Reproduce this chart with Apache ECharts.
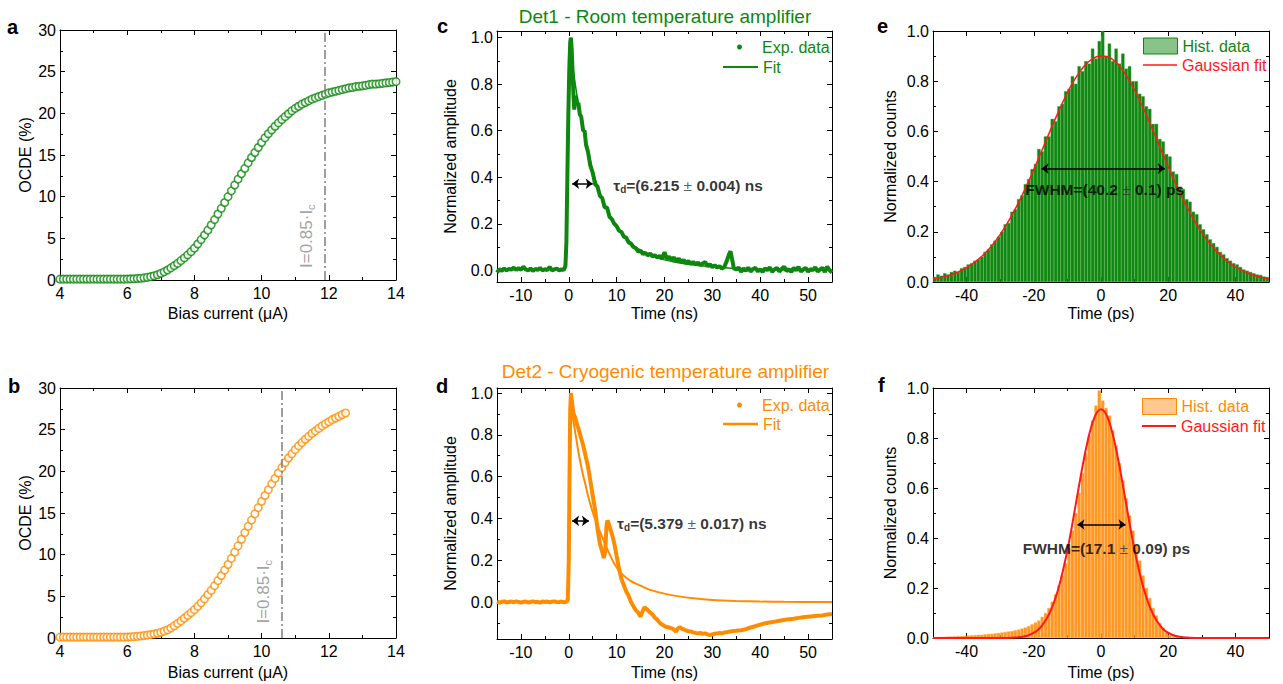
<!DOCTYPE html>
<html><head><meta charset="utf-8">
<script src="https://cdn.jsdelivr.net/npm/echarts@6/dist/echarts.min.js"></script>
<style>html,body{margin:0;padding:0;background:#fff}#c{width:1283px;height:684px}</style>
</head><body><div id="c"></div>
<script>
const FONT = '"Liberation Sans", Arial, Helvetica, sans-serif';
const GREEN = '#0e870e';
const ORANGE = '#ff8c00';
const RED = '#ff1a1a';
const GRAY = '#8a8a8a';

// ---------- panel a / b : OCDE vs bias current ----------
const biasA = [4,4.1,4.2,4.3,4.4,4.5,4.6,4.7,4.8,4.9,5,5.1,5.2,5.3,5.4,5.5,5.6,5.7,5.8,5.9,6,6.1,6.2,6.3,6.4,6.5,6.6,6.7,6.8,6.9,7,7.1,7.2,7.3,7.4,7.5,7.6,7.7,7.8,7.9,8,8.1,8.2,8.3,8.4,8.5,8.6,8.7,8.8,8.9,9,9.1,9.2,9.3,9.4,9.5,9.6,9.7,9.8,9.9,10,10.1,10.2,10.3,10.4,10.5,10.6,10.7,10.8,10.9,11,11.1,11.2,11.3,11.4,11.5,11.6,11.7,11.8,11.9,12,12.1,12.2,12.3,12.4,12.5,12.6,12.7,12.8,12.9,13,13.1,13.2,13.3,13.4,13.5,13.6,13.7,13.8,13.9,14];
const ocdeA = [0.1,0.1,0.1,0.1,0.1,0.1,0.1,0.1,0.1,0.1,0.1,0.1,0.1,0.1,0.1,0.1,0.1,0.1,0.1,0.1,
 0.12,0.13,0.15,0.18,0.21,0.26,0.32,0.40,0.50,0.63,
 0.80,0.98,1.2,1.45,1.72,2.0,2.32,2.66,3.02,3.4,
 3.82,4.32,4.85,5.4,5.98,6.6,7.25,7.92,8.6,9.3,
 10.0,10.7,11.4,12.1,12.75,13.4,14.05,14.7,15.3,15.9,
 16.5,17.05,17.55,18.0,18.45,18.85,19.25,19.6,19.95,20.3,
 20.6,20.85,21.1,21.3,21.5,21.7,21.85,22.0,22.15,22.3,
 22.45,22.55,22.65,22.75,22.85,22.95,23.05,23.1,23.2,23.25,
 23.3,23.35,23.45,23.5,23.5,23.55,23.6,23.65,23.7,23.75,
 23.8];
const biasB = [4,4.1,4.2,4.3,4.4,4.5,4.6,4.7,4.8,4.9,5,5.1,5.2,5.3,5.4,5.5,5.6,5.7,5.8,5.9,6,6.1,6.2,6.3,6.4,6.5,6.6,6.7,6.8,6.9,7,7.1,7.2,7.3,7.4,7.5,7.6,7.7,7.8,7.9,8,8.1,8.2,8.3,8.4,8.5,8.6,8.7,8.8,8.9,9,9.1,9.2,9.3,9.4,9.5,9.6,9.7,9.8,9.9,10,10.1,10.2,10.3,10.4,10.5,10.6,10.7,10.8,10.9,11,11.1,11.2,11.3,11.4,11.5,11.6,11.7,11.8,11.9,12,12.1,12.2,12.3,12.4,12.5];
const ocdeB = [0.1,0.1,0.1,0.1,0.1,0.1,0.1,0.1,0.1,0.1,0.1,0.1,0.1,0.1,0.1,0.1,0.1,0.1,0.1,0.1,
 0.12,0.14,0.17,0.2,0.24,0.29,0.34,0.4,0.48,0.57,
 0.68,0.82,0.98,1.2,1.45,1.75,2.05,2.38,2.72,3.05,
 3.4,3.8,4.22,4.7,5.2,5.72,6.28,6.88,7.5,8.15,
 8.82,9.55,10.3,11.05,11.85,12.65,13.4,14.15,14.9,15.65,
 16.4,17.1,17.8,18.5,19.15,19.8,20.45,21.05,21.6,22.1,
 22.6,23.05,23.45,23.85,24.2,24.55,24.85,25.15,25.45,25.7,
 25.95,26.2,26.4,26.6,26.8,27.0];
const icLineA = 11.87, icLineB = 10.6;
const icLabel = 'I=0.85·I', icSub = 'c';

// ---------- panel c / d : normalized pulses ----------
const traceC = [[-15,-0.01],[-14.5,0.005],[-14,-0.002],[-13.5,0.008],[-13,0.0],[-12.5,0.006],[-12,0.003],[-11.5,0.012],[-11,0.002],[-10.5,0.009],[-10,0.003],[-9.5,0.016],[-9,0.004],[-8.5,0.0],[-8,0.008],[-7.5,-0.002],[-7,0.006],[-6.5,0.002],[-6,0.01],[-5.5,0.0],[-5,0.005],[-4.5,0.001],[-4,0.015],[-3.5,0.0],[-3,0.004],[-2.5,0.008],[-2,0.0],[-1.5,0.004],[-1,0.002],
 [-0.7,0.02],[-0.5,0.12],[-0.3,0.4],[-0.1,0.66],[0.1,0.86],[0.3,0.98],[0.45,1.0],[0.6,0.95],[0.8,0.85],[1.0,0.74],[1.15,0.69],[1.3,0.73],[1.5,0.75],[1.8,0.71],[2.0,0.72],[2.3,0.67],[2.6,0.66],[3.0,0.6],[3.3,0.6],[3.6,0.54],[4.0,0.51],[4.5,0.45],[5.0,0.42],[5.5,0.37],[6.0,0.36],[6.5,0.32],[7.0,0.31],[7.5,0.27],[8.0,0.27],[8.5,0.23],[9.0,0.22],[9.5,0.2],[10,0.19],[10.5,0.17],[11,0.165],[11.5,0.145],[12,0.14],[12.5,0.12],[13,0.115],[13.5,0.1],[14,0.095],[14.5,0.08],[15,0.085],[15.5,0.07],[16,0.075],[16.5,0.065],[17,0.072],[17.5,0.06],[18,0.065],[18.5,0.055],[19,0.062],[19.5,0.05],[20,0.078],[20.5,0.05],[21,0.058],[21.5,0.045],[22,0.055],[22.5,0.04],[23,0.05],[23.5,0.035],[24,0.045],[24.5,0.03],[25,0.04],[25.5,0.028],[26,0.036],[26.5,0.025],[27,0.034],[27.5,0.022],[28,0.03],[28.5,0.036],[29,0.018],[29.5,0.026],[30,0.014],[30.5,0.022],[31,0.012],[31.5,0.018],[32,0.008],[32.5,0.014],[33,0.04],[33.5,0.07],[33.8,0.082],[34.1,0.05],[34.5,0.008],[35,0.004],[35.5,0.012],[36,-0.006],[36.5,0.008],[37,-0.002],[37.5,0.012],[38,-0.005],[38.5,0.006],[39,0.011],[39.5,-0.004],[40,0.004],[40.5,-0.007],[41,0.009],[41.5,0.0],[42,0.013],[42.5,-0.006],[43,0.004],[43.5,0.011],[44,-0.005],[44.5,0.006],[45,0.016],[45.5,-0.003],[46,0.005],[46.5,-0.007],[47,0.011],[47.5,0.0],[48,0.015],[48.5,-0.005],[49,0.004],[49.5,0.011],[50,-0.006],[50.5,0.006],[51,0.0],[51.5,0.013],[52,-0.005],[52.5,0.004],[53,0.011],[53.5,-0.007],[54,0.016],[54.5,0.0],[55,-0.009]];
const fitC = [[0.3,0.93],[0.5,0.92],[1,0.85],[1.5,0.78],[2,0.71],[3,0.61],[4,0.515],[5,0.43],[6,0.36],[7,0.305],[8,0.26],[9,0.22],[10,0.19],[12,0.14],[14,0.1],[16,0.075],[18,0.057],[20,0.045],[22,0.036],[25,0.026],[28,0.019],[32,0.012],[36,0.007],[40,0.004],[45,0.002],[55,0.0]];
const traceD = [[-15,0.002],[-14.5,-0.003],[-14,0.001],[-13.5,0.003],[-13,-0.002],[-12.5,0.0],[-12,0.002],[-11.5,-0.001],[-11,0.003],[-10.5,0.0],[-10,-0.003],[-9.5,0.001],[-9,0.002],[-8.5,-0.002],[-8,0.0],[-7.5,0.003],[-7,-0.001],[-6.5,0.001],[-6,-0.003],[-5.5,0.002],[-5,0.0],[-4.5,0.002],[-4,-0.002],[-3.5,0.001],[-3,0.003],[-2.5,-0.001],[-2,0.0],[-1.5,0.002],[-1,-0.002],[-0.5,0.001],
 [-0.2,0.01],[0,0.2],[0.15,0.6],[0.3,0.92],[0.45,1.0],[0.6,0.97],[0.8,0.93],[1.0,0.9],[1.3,0.885],[1.6,0.86],[2.0,0.83],[2.5,0.79],[3.0,0.75],[3.5,0.70],[4.0,0.65],[4.5,0.58],[5.0,0.51],[5.5,0.44],[6.0,0.35],[6.5,0.28],[7.0,0.24],[7.3,0.21],[7.6,0.24],[7.9,0.37],[8.1,0.39],[8.4,0.37],[8.8,0.34],[9.2,0.31],[9.6,0.27],[10,0.22],[10.5,0.16],[11,0.11],[11.5,0.08],[12,0.05],[12.5,0.03],[13,0.0],[13.5,-0.02],[14,-0.04],[14.5,-0.05],[15,-0.07],[15.3,-0.05],[15.8,-0.025],[16.3,-0.035],[17,-0.05],[17.5,-0.06],[18,-0.075],[18.5,-0.085],[19,-0.1],[19.5,-0.108],[20,-0.115],[20.5,-0.12],[21,-0.122],[21.5,-0.126],[22,-0.132],[22.4,-0.142],[22.8,-0.126],[23.2,-0.12],[23.6,-0.128],[24,-0.13],[24.5,-0.136],[25,-0.14],[25.5,-0.141],[26,-0.145],[26.5,-0.148],[27,-0.15],[27.5,-0.148],[28,-0.152],[28.5,-0.15],[29,-0.155],[29.5,-0.158],[30,-0.155],[30.5,-0.152],[31,-0.15],[31.5,-0.148],[32,-0.15],[32.5,-0.146],[33,-0.145],[33.5,-0.142],[34,-0.14],[35,-0.138],[36,-0.135],[37,-0.13],[38,-0.122],[39,-0.115],[40,-0.108],[41,-0.102],[42,-0.098],[43,-0.094],[44,-0.09],[45,-0.086],[46,-0.082],[47,-0.08],[48,-0.076],[49,-0.073],[50,-0.07],[51,-0.068],[52,-0.066],[53,-0.064],[54,-0.06],[55,-0.057]];
const fitD = [[0.3,0.93],[0.5,0.91],[1,0.86],[1.5,0.79],[2,0.72],[2.5,0.66],[3,0.605],[3.5,0.56],[4,0.51],[5,0.43],[6,0.365],[7,0.31],[8,0.255],[9,0.205],[10,0.165],[11,0.137],[12,0.116],[13,0.1],[14,0.088],[15,0.078],[17,0.058],[20,0.04],[23,0.027],[26,0.018],[30,0.01],[35,0.005],[40,0.002],[45,0.001],[55,0.0]];

// ---------- panel e / f : timing jitter histograms ----------
const binStart = -49.5, binWidth = 1;
const histE = [0.02,0.03,0.025,0.035,0.03,0.04,0.045,0.04,0.055,0.06,
 0.07,0.075,0.085,0.09,0.1,0.12,0.13,0.15,0.165,0.18,
 0.2,0.23,0.235,0.28,0.29,0.33,0.345,0.39,0.41,0.45,
 0.47,0.53,0.52,0.58,0.58,0.65,0.64,0.70,0.71,0.76,
 0.77,0.82,0.79,0.86,0.84,0.88,0.87,0.93,0.89,0.96,
 1.0,0.9,0.95,0.88,0.93,0.87,0.91,0.85,0.86,0.8,
 0.8,0.75,0.74,0.7,0.69,0.63,0.63,0.57,0.56,0.51,
 0.5,0.44,0.43,0.38,0.37,0.33,0.32,0.28,0.27,0.23,
 0.21,0.19,0.17,0.155,0.14,0.12,0.11,0.095,0.085,0.075,
 0.07,0.06,0.05,0.045,0.04,0.035,0.03,0.028,0.022,0.02];
const fitEx = [-50,-48,-46,-44,-42,-40,-38,-36,-34,-32,-30,-28,-26,-24,-22,-20,-18,-16,-14,-12,-10,-8,-6,-4,-2,0,2,4,6,8,10,12,14,16,18,20,22,24,26,28,30,32,34,36,38,40,42,44,46,48,50];
const fitEy = [0.012,0.017,0.023,0.032,0.043,0.057,0.075,0.096,0.122,0.153,0.19,0.232,0.279,0.331,0.388,0.448,0.511,0.575,0.638,0.698,0.754,0.803,0.843,0.874,0.893,0.9,0.897,0.88,0.852,0.812,0.764,0.709,0.65,0.587,0.523,0.46,0.398,0.341,0.288,0.24,0.197,0.16,0.128,0.101,0.078,0.06,0.046,0.034,0.025,0.018,0.0128];
const histF = [0.004,0.004,0.005,0.005,0.006,0.006,0.007,0.008,0.008,0.009,
 0.01,0.011,0.012,0.013,0.013,0.015,0.016,0.017,0.019,0.02,
 0.022,0.024,0.026,0.028,0.031,0.034,0.038,0.042,0.048,0.055,
 0.062,0.07,0.085,0.1,0.12,0.145,0.175,0.21,0.25,0.3,
 0.36,0.43,0.5,0.58,0.66,0.74,0.81,0.87,0.93,0.99,
 0.95,0.92,0.89,0.83,0.77,0.70,0.63,0.56,0.49,0.43,
 0.37,0.31,0.25,0.2,0.16,0.12,0.09,0.06,0.04,0.022,
 0.012,0.007,0.004,0.003,0.002,0.002,0.001,0.001,0.001,0.001,
 0.001,0.001,0.001,0.001,0.001,0.001,0.001,0.001,0.001,0.001,
 0.001,0.001,0.001,0.001,0.001,0.001,0.001,0.001,0.001,0.001];
const fitFx = [-50,-40,-30,-26,-24,-22,-20,-19,-18,-17,-16,-15,-14,-13,-12,-11,-10,-9,-8,-7,-6,-5,-4,-3,-2,-1,0,1,2,3,4,5,6,7,8,9,10,11,12,13,14,15,16,17,18,19,20,22,24,26,30,40,50];
const fitFy = [0,0,0.0001,0.0015,0.004,0.009,0.021,0.03,0.043,0.061,0.082,0.109,0.143,0.184,0.232,0.289,0.351,0.421,0.497,0.574,0.65,0.722,0.786,0.84,0.88,0.906,0.915,0.906,0.88,0.84,0.786,0.722,0.65,0.574,0.497,0.421,0.351,0.289,0.232,0.184,0.143,0.109,0.082,0.061,0.043,0.03,0.021,0.009,0.004,0.0015,0.0001,0,0];

// annotations (data coordinates)
const arrowC = [[0.7,0.372],[5.0,0.372]], textC = [9.3,0.365], tauC = '6.215', errC = '0.004';
const arrowD = [[0.7,0.388],[4.2,0.388]], textD = [10.1,0.377], tauD = '5.379', errD = '0.017';
const arrowE = [[-17.7,0.452],[19.0,0.452]], textE = [1.1,0.369], fwhmE = '40.2', errE = '0.1';
const arrowF = [[-7.0,0.454],[7.3,0.454]], textF = [1.6,0.36], fwhmF = '17.1', errF = '0.09';
const icTextA = [11.35,1.44], icTextB = [10.05,1.73];

// ---------- layout ----------
const grids = [
  {left:60, top:30, width:336, height:250},
  {left:60, top:388, width:336, height:250},
  {left:497, top:31, width:335, height:251},
  {left:497, top:388, width:335, height:251},
  {left:933, top:31, width:336, height:251},
  {left:933, top:388, width:336, height:250}
].map(g => Object.assign({outerBoundsMode:'none', containLabel:false, show:false}, g));

const xCfg = [
  {range:[4,14], major:[4,6,8,10,12,14], minor:[5,7,9,11,13], dec:0, name:'Bias current (μA)', gap:25},
  {range:[4,14], major:[4,6,8,10,12,14], minor:[5,7,9,11,13], dec:0, name:'Bias current (μA)', gap:26},
  {range:[-15,55], major:[-10,0,10,20,30,40,50], minor:[-5,5,15,25,35,45], dec:0, name:'Time (ns)', gap:23.5},
  {range:[-15,55], major:[-10,0,10,20,30,40,50], minor:[-5,5,15,25,35,45], dec:0, name:'Time (ns)', gap:25},
  {range:[-50,50], major:[-40,-20,0,20,40], minor:[-30,-10,10,30], dec:0, name:'Time (ps)', gap:23.5},
  {range:[-50,50], major:[-40,-20,0,20,40], minor:[-30,-10,10,30], dec:0, name:'Time (ps)', gap:26}
];
const yCfg = [
  {range:[0,30], major:[0,5,10,15,20,25,30], minor:[2.5,7.5,12.5,17.5,22.5,27.5], dec:0, name:'OCDE (%)', gap:27},
  {range:[0,30], major:[0,5,10,15,20,25,30], minor:[2.5,7.5,12.5,17.5,22.5,27.5], dec:0, name:'OCDE (%)', gap:27},
  {range:[-0.05,1.028], major:[0,0.2,0.4,0.6,0.8,1.0], minor:[0.1,0.3,0.5,0.7,0.9], dec:1, name:'Normalized amplitude', gap:39},
  {range:[-0.177,1.024], major:[0,0.2,0.4,0.6,0.8,1.0], minor:[-0.1,0.1,0.3,0.5,0.7,0.9], dec:1, name:'Normalized amplitude', gap:39},
  {range:[0,1], major:[0,0.2,0.4,0.6,0.8,1.0], minor:[0.1,0.3,0.5,0.7,0.9], dec:1, name:'Normalized counts', gap:35},
  {range:[0,1], major:[0,0.2,0.4,0.6,0.8,1.0], minor:[0.1,0.3,0.5,0.7,0.9], dec:1, name:'Normalized counts', gap:35}
];

function makeAxes(dim, g, cfg) {
  const base = {type:'value', gridIndex:g, min:cfg.range[0], max:cfg.range[1], splitLine:{show:false}, splitArea:{show:false}, silent:true};
  const sides = dim === 'x' ? ['bottom','top'] : ['left','right'];
  const out = [];
  sides.forEach((side, k) => {
    out.push(Object.assign({}, base, {
      position: side,
      name: k === 0 ? cfg.name : '', nameLocation:'middle', nameGap: cfg.gap,
      nameTextStyle:{fontSize:16, fontFamily:FONT, color:'#000'},
      axisLine:{show:true, onZero:false, lineStyle:{color:'#000', width:1}},
      axisTick:{show:true, inside:true, length:5, customValues:cfg.major, lineStyle:{color:'#000', width:1}},
      axisLabel:{show:k === 0, customValues:cfg.major, margin: dim === 'x' ? 5 : 4, fontSize:16, fontFamily:FONT, color:'#000',
        formatter: v => Number(v).toFixed(cfg.dec)}
    }));
    out.push(Object.assign({}, base, {
      position: side,
      axisLine:{show:false, onZero:false},
      axisTick:{show:true, inside:true, length:3, customValues:cfg.minor, lineStyle:{color:'#000', width:1}},
      axisLabel:{show:false}
    }));
  });
  return out;
}
let xAxes = [], yAxes = [];
for (let g = 0; g < 6; g++) { xAxes = xAxes.concat(makeAxes('x', g, xCfg[g])); yAxes = yAxes.concat(makeAxes('y', g, yCfg[g])); }
const ax = g => ({xAxisIndex:4*g, yAxisIndex:4*g});

const zip = (xs, ys) => xs.map((x, i) => [x, ys[i]]);
const bins = vals => vals.map((v, i) => [binStart + i*binWidth, v]);

const annRich = {
  b:{fontWeight:'bold', fontSize:15.5, fontFamily:FONT, color:'#000', lineHeight:19},
  s:{fontWeight:'bold', fontSize:10, fontFamily:FONT, color:'#000', verticalAlign:'bottom', lineHeight:9},
  n:{fontSize:15.5, fontFamily:FONT, color:'#333', lineHeight:19}
};
function annot(g, pt, text, align, arrow) {
  const s = Object.assign({type:'scatter', data:[pt], symbolSize:0, silent:true, z:10,
    label:{show:true, position:[0,0], distance:0, formatter:text, align:align, verticalAlign:'middle', rich:annRich}}, ax(g));
  if (arrow) s.markLine = {silent:true, symbol:['arrow','arrow'], symbolSize:[8,7], animation:false,
    lineStyle:{color:'#000', width:1.5, type:'solid'}, label:{show:false}, emphasis:{disabled:true},
    data:[[{coord:arrow[0]},{coord:arrow[1]}]]};
  return s;
}
function icAnnot(g, pt) {
  return Object.assign({type:'scatter', data:[pt], symbolSize:0, silent:true, z:10,
    label:{show:true, position:'inside', rotate:90, align:'left', verticalAlign:'middle',
      formatter:'{m|' + icLabel + '}{s|' + icSub + '}',
      rich:{m:{fontSize:17, fontFamily:FONT, color:GRAY, lineHeight:20}, s:{fontSize:11, fontFamily:FONT, color:GRAY, verticalAlign:'bottom', lineHeight:11}}}}, ax(g));
}
function ocdeSeries(g, xs, ys, color, ic) {
  return Object.assign({type:'scatter', data:zip(xs, ys), symbol:'circle', symbolSize:7.5,
    itemStyle:{color:'#fff', borderColor:color, borderWidth:1.6}, silent:true,
    markLine:{silent:true, symbol:'none', animation:false, label:{show:false}, emphasis:{disabled:true},
      lineStyle:{color:'#7f7f7f', width:1.5, type:[9,3,2,3]}, data:[{xAxis:ic}]}}, ax(g));
}
function lineSeries(g, name, data, color, width, smooth) {
  return Object.assign({type:'line', name, data, symbol:'none', showSymbol:false, smooth:smooth || false,
    lineStyle:{color, width}, itemStyle:{color}, silent:true}, ax(g));
}
function histSeries(g, name, vals, color, edge) {
  return Object.assign({type:'bar', name, data:bins(vals), barWidth:'100%',
    itemStyle:{color, borderColor:edge, borderWidth:0.4}, silent:true}, ax(g));
}

const series = [
  ocdeSeries(0, biasA, ocdeA, GREEN, icLineA), icAnnot(0, icTextA),
  ocdeSeries(1, biasB, ocdeB, ORANGE, icLineB), icAnnot(1, icTextB),
  lineSeries(2, 'Exp. data c', traceC, GREEN, 4),
  lineSeries(2, 'Fit c', fitC, GREEN, 1.5, 0.3),
  annot(2, textC, '{b|τ}{s|d}{b|=(' + tauC + ' }{n|±}{b| ' + errC + ') ns}', 'left', arrowC),
  lineSeries(3, 'Exp. data d', traceD, ORANGE, 4),
  lineSeries(3, 'Fit d', fitD, ORANGE, 2, 0.3),
  annot(3, textD, '{b|τ}{s|d}{b|=(' + tauD + ' }{n|±}{b| ' + errD + ') ns}', 'left', arrowD),
  histSeries(4, 'Hist. data e', histE, '#0f880f', '#3d9f3d'),
  lineSeries(4, 'Gaussian fit e', zip(fitEx, fitEy), RED, 1.5, true),
  annot(4, textE, '{b|FWHM=(' + fwhmE + ' }{n|±}{b| ' + errE + ') ps}', 'center', arrowE),
  histSeries(5, 'Hist. data f', histF, '#ff961f', '#ffb25f'),
  lineSeries(5, 'Gaussian fit f', zip(fitFx, fitFy), RED, 2, true),
  annot(5, textF, '{b|FWHM=(' + fwhmF + ' }{n|±}{b| ' + errF + ') ps}', 'center', arrowF)
];

function leg(item, left, cy, color, w, h) {
  return {show:true, left, top:cy - 8, orient:'vertical', padding:0, itemGap:0, itemWidth:w, itemHeight:h,
    selectedMode:false, data:[item], formatter: n => n.replace(/ [a-f]$/, ''),
    textStyle:{color, fontSize:16, fontFamily:FONT, lineHeight:16, padding:0}};
}
const legends = [
  leg({name:'Exp. data c', icon:'circle', itemStyle:{color:GREEN}}, 737, 47, GREEN, 35, 5),
  leg({name:'Fit c', icon:'rect', itemStyle:{color:GREEN}}, 723, 67, GREEN, 35, 2),
  leg({name:'Exp. data d', icon:'circle', itemStyle:{color:ORANGE}}, 737, 405, ORANGE, 35, 5),
  leg({name:'Fit d', icon:'rect', itemStyle:{color:ORANGE}}, 723, 424, ORANGE, 35, 2.5),
  leg({name:'Hist. data e', icon:'rect', itemStyle:{color:'rgba(17,138,17,0.5)', borderColor:GREEN, borderWidth:1}}, 1143, 45.5, GREEN, 34, 16),
  leg({name:'Gaussian fit e', icon:'rect', itemStyle:{color:RED}}, 1143, 65, RED, 34, 1.5),
  leg({name:'Hist. data f', icon:'rect', itemStyle:{color:'rgba(255,148,34,0.5)', borderColor:ORANGE, borderWidth:1}}, 1142, 406, ORANGE, 34, 16),
  leg({name:'Gaussian fit f', icon:'rect', itemStyle:{color:RED}}, 1142, 426, RED, 34, 2)
];

const panelLetters = [['a',7,26.5],['b',8,386],['c',437,26],['d',436,386],['e',877,25.5],['f',878,385]];
const panelTitles = [['Det1 - Room temperature amplifier',665,16,GREEN],['Det2 - Cryogenic temperature amplifier',665.5,371,ORANGE]];
const graphic = panelLetters.map(([t,x,y]) => ({type:'text', x, y, silent:true,
    style:{text:t, font:'bold 20px ' + FONT, fill:'#000', verticalAlign:'middle', align:'left'}}))
  .concat(panelTitles.map(([t,x,y,c]) => ({type:'text', x, y, silent:true,
    style:{text:t, font:'19px ' + FONT, fill:c, verticalAlign:'middle', align:'center'}})));

const chart = echarts.init(document.getElementById('c'), null, {renderer:'svg', width:1283, height:684});
chart.setOption({
  animation:false,
  backgroundColor:'#fff',
  textStyle:{fontFamily:FONT},
  grid:grids,
  xAxis:xAxes,
  yAxis:yAxes,
  legend:legends,
  series,
  graphic
});
</script></body></html>
